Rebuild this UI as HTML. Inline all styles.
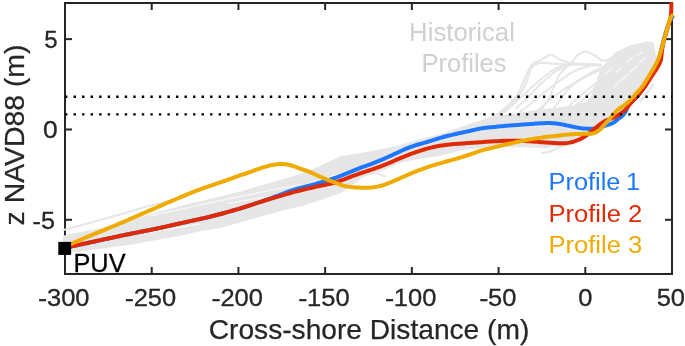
<!DOCTYPE html>
<html><head><meta charset="utf-8"><style>
html,body{margin:0;padding:0;background:#fff;width:685px;height:346px;overflow:hidden}
svg{display:block}
text{font-family:"Liberation Sans",Arial,Helvetica,sans-serif}
.t{font-size:24px;fill:#262626;stroke:#262626;stroke-width:0.3px}
.l{font-size:28.4px;fill:#262626;stroke:#262626;stroke-width:0.25px}
.g{font-size:24.5px}
.h{font-size:25px;fill:#d0d0d0}
</style></head><body>
<svg width="685" height="346" viewBox="0 0 685 346">
<rect width="685" height="346" fill="#fff"/>
<rect x="65.0" y="3.0" width="607.0" height="271.0" fill="none" stroke="#262626" stroke-width="2"/>
<line x1="65.00" x2="65.00" y1="274.0" y2="267.0" stroke="#262626" stroke-width="2"/>
<line x1="65.00" x2="65.00" y1="3.0" y2="10.0" stroke="#262626" stroke-width="2"/>
<line x1="151.71" x2="151.71" y1="274.0" y2="267.0" stroke="#262626" stroke-width="2"/>
<line x1="151.71" x2="151.71" y1="3.0" y2="10.0" stroke="#262626" stroke-width="2"/>
<line x1="238.43" x2="238.43" y1="274.0" y2="267.0" stroke="#262626" stroke-width="2"/>
<line x1="238.43" x2="238.43" y1="3.0" y2="10.0" stroke="#262626" stroke-width="2"/>
<line x1="325.14" x2="325.14" y1="274.0" y2="267.0" stroke="#262626" stroke-width="2"/>
<line x1="325.14" x2="325.14" y1="3.0" y2="10.0" stroke="#262626" stroke-width="2"/>
<line x1="411.86" x2="411.86" y1="274.0" y2="267.0" stroke="#262626" stroke-width="2"/>
<line x1="411.86" x2="411.86" y1="3.0" y2="10.0" stroke="#262626" stroke-width="2"/>
<line x1="498.57" x2="498.57" y1="274.0" y2="267.0" stroke="#262626" stroke-width="2"/>
<line x1="498.57" x2="498.57" y1="3.0" y2="10.0" stroke="#262626" stroke-width="2"/>
<line x1="585.29" x2="585.29" y1="274.0" y2="267.0" stroke="#262626" stroke-width="2"/>
<line x1="585.29" x2="585.29" y1="3.0" y2="10.0" stroke="#262626" stroke-width="2"/>
<line x1="672.00" x2="672.00" y1="274.0" y2="267.0" stroke="#262626" stroke-width="2"/>
<line x1="672.00" x2="672.00" y1="3.0" y2="10.0" stroke="#262626" stroke-width="2"/>
<line x1="65.0" x2="72.0" y1="219.80" y2="219.80" stroke="#262626" stroke-width="2"/>
<line x1="672.0" x2="665.0" y1="219.80" y2="219.80" stroke="#262626" stroke-width="2"/>
<line x1="65.0" x2="72.0" y1="129.47" y2="129.47" stroke="#262626" stroke-width="2"/>
<line x1="672.0" x2="665.0" y1="129.47" y2="129.47" stroke="#262626" stroke-width="2"/>
<line x1="65.0" x2="72.0" y1="39.13" y2="39.13" stroke="#262626" stroke-width="2"/>
<line x1="672.0" x2="665.0" y1="39.13" y2="39.13" stroke="#262626" stroke-width="2"/>
<path d="M63.8,236.5 L65.0,236.0 L100.0,229.0 L120.0,223.5 L140.0,218.0 L170.0,209.5 L200.0,202.0 L240.0,192.5 L281.0,180.5 L300.0,175.0 L320.0,167.0 L340.0,157.0 L360.0,154.0 L381.0,150.0 L400.0,146.0 L420.0,140.0 L440.0,135.0 L463.0,127.0 L486.0,119.5 L509.0,115.0 L540.0,110.0 L570.0,107.0 L588.0,102.0 L592.0,96.0 L596.0,85.0 L600.0,73.0 L605.0,65.0 L609.0,60.5 L613.0,56.0 L616.0,53.0 L625.0,48.7 L630.0,46.1 L638.0,44.3 L647.0,42.6 L653.0,42.4 L654.5,50.0 L655.5,60.0 L653.0,71.0 L648.0,80.0 L640.0,92.0 L631.0,100.0 L622.0,107.0 L614.0,113.0 L606.0,122.0 L598.0,128.0 L590.0,134.0 L575.0,142.0 L560.0,146.0 L540.0,146.5 L509.0,146.5 L486.0,147.0 L463.0,149.0 L440.0,155.0 L420.0,158.0 L400.0,162.0 L386.0,168.5 L363.0,176.5 L350.0,186.0 L340.0,192.7 L326.0,197.3 L303.0,205.0 L280.0,210.6 L262.0,215.5 L221.0,227.0 L200.0,230.5 L180.0,235.0 L130.0,244.0 L100.0,248.0 L70.8,252.0 L65.0,253.0 L63.8,253.0 Z" fill="#e6e6e6" stroke="#e6e6e6" stroke-width="1.5" stroke-linejoin="round"/>
<path d="M63.50,230.00 C72.92,227.42 107.25,218.08 120.00,214.50 C132.75,210.92 132.50,210.58 140.00,208.50 C147.50,206.42 157.50,203.92 165.00,202.00 C172.50,200.08 181.67,197.83 185.00,197.00" fill="none" stroke="#e6e6e6" stroke-width="2" stroke-linejoin="round" stroke-linecap="round"/>
<path d="M486.00,119.40 C488.33,118.33 494.93,116.85 500.00,113.00 C505.07,109.15 512.07,102.47 516.40,96.30 C520.73,90.13 523.30,81.40 526.00,76.00 C528.70,70.60 530.27,66.47 532.60,63.90 C534.93,61.33 537.00,62.12 540.00,60.60 C543.00,59.08 547.20,54.93 550.60,54.80 C554.00,54.67 556.97,58.43 560.40,59.80 C563.83,61.17 567.10,62.30 571.20,63.00 C575.30,63.70 580.03,63.75 585.00,64.00 C589.97,64.25 598.33,64.42 601.00,64.50" fill="none" stroke="#e6e6e6" stroke-width="2" stroke-linejoin="round" stroke-linecap="round"/>
<path d="M498.00,114.80 C500.13,113.33 506.35,110.77 510.80,106.00 C515.25,101.23 521.23,92.58 524.70,86.20 C528.17,79.82 529.10,71.55 531.60,67.70 C534.10,63.85 536.63,63.80 539.70,63.10 C542.77,62.40 544.95,63.27 550.00,63.50 C555.05,63.73 561.50,64.17 570.00,64.50 C578.50,64.83 595.83,65.33 601.00,65.50" fill="none" stroke="#e6e6e6" stroke-width="2" stroke-linejoin="round" stroke-linecap="round"/>
<path d="M536.00,116.30 C538.00,113.58 544.10,106.93 548.00,100.00 C551.90,93.07 555.57,80.85 559.40,74.70 C563.23,68.55 568.12,66.18 571.00,63.10 C573.88,60.02 574.40,58.12 576.70,56.20 C579.00,54.28 581.92,51.80 584.80,51.60 C587.68,51.40 590.92,53.47 594.00,55.00 C597.08,56.53 600.30,60.30 603.30,60.80 C606.30,61.30 610.55,58.47 612.00,58.00" fill="none" stroke="#e6e6e6" stroke-width="2" stroke-linejoin="round" stroke-linecap="round"/>
<path d="M545.50,118.60 C547.92,115.50 555.75,105.40 560.00,100.00 C564.25,94.60 565.72,90.80 571.00,86.20 C576.28,81.60 586.03,75.77 591.70,72.40 C597.37,69.03 602.78,67.07 605.00,66.00" fill="none" stroke="#e6e6e6" stroke-width="2" stroke-linejoin="round" stroke-linecap="round"/>
<path d="M530.00,118.00 C532.50,115.67 540.00,108.33 545.00,104.00 C550.00,99.67 554.17,96.00 560.00,92.00 C565.83,88.00 573.33,83.67 580.00,80.00 C586.67,76.33 596.67,71.67 600.00,70.00" fill="none" stroke="#e6e6e6" stroke-width="2" stroke-linejoin="round" stroke-linecap="round"/>
<path d="M555.00,118.00 C557.50,115.83 565.00,109.33 570.00,105.00 C575.00,100.67 580.00,96.17 585.00,92.00 C590.00,87.83 597.50,82.00 600.00,80.00" fill="none" stroke="#e6e6e6" stroke-width="2" stroke-linejoin="round" stroke-linecap="round"/>
<path d="M565.00,114.00 C567.50,112.00 575.00,106.33 580.00,102.00 C585.00,97.67 590.83,92.00 595.00,88.00 C599.17,84.00 603.33,79.67 605.00,78.00" fill="none" stroke="#e6e6e6" stroke-width="2" stroke-linejoin="round" stroke-linecap="round"/>
<path d="M516.40,107.90 C518.67,105.75 526.07,98.87 530.00,95.00 C533.93,91.13 535.67,88.70 540.00,84.70 C544.33,80.70 551.00,74.28 556.00,71.00 C561.00,67.72 567.67,66.00 570.00,65.00" fill="none" stroke="#e6e6e6" stroke-width="2" stroke-linejoin="round" stroke-linecap="round"/>
<path d="M505.00,112.00 C507.17,110.00 513.83,103.83 518.00,100.00 C522.17,96.17 525.50,93.00 530.00,89.00 C534.50,85.00 540.67,79.43 545.00,76.00 C549.33,72.57 551.83,70.40 556.00,68.40 C560.17,66.40 567.67,64.73 570.00,64.00" fill="none" stroke="#e6e6e6" stroke-width="2" stroke-linejoin="round" stroke-linecap="round"/>
<path d="M520.00,112.00 C521.67,110.70 525.00,108.20 530.00,104.20 C535.00,100.20 542.77,93.42 550.00,88.00 C557.23,82.58 566.73,75.37 573.40,71.70 C580.07,68.03 587.23,66.95 590.00,66.00" fill="none" stroke="#e6e6e6" stroke-width="2" stroke-linejoin="round" stroke-linecap="round"/>
<path d="M492.00,118.00 C494.17,116.33 501.17,111.33 505.00,108.00 C508.83,104.67 513.33,99.67 515.00,98.00" fill="none" stroke="#e6e6e6" stroke-width="2" stroke-linejoin="round" stroke-linecap="round"/>
<path d="M366.80,170.40 L385.00,176.40" fill="none" stroke="#e6e6e6" stroke-width="2" stroke-linejoin="round" stroke-linecap="round"/>
<path d="M512.00,145.00 C515.00,145.25 524.83,146.17 530.00,146.50 C535.17,146.83 539.33,147.08 543.00,147.00 C546.67,146.92 550.50,146.17 552.00,146.00" fill="none" stroke="#e6e6e6" stroke-width="2" stroke-linejoin="round" stroke-linecap="round"/>
<path d="M542.00,153.00 C543.33,152.75 546.83,152.58 550.00,151.50 C553.17,150.42 557.67,147.92 561.00,146.50 C564.33,145.08 568.50,143.58 570.00,143.00" fill="none" stroke="#e6e6e6" stroke-width="2" stroke-linejoin="round" stroke-linecap="round"/>
<path d="M639.70,102.00 L653.60,84.70" fill="none" stroke="#e6e6e6" stroke-width="2" stroke-linejoin="round" stroke-linecap="round"/>
<path d="M150.00,216.00 C158.33,214.17 188.33,207.57 200.00,205.00 C211.67,202.43 210.00,202.68 220.00,200.60 C230.00,198.52 246.67,195.18 260.00,192.50 C273.33,189.82 293.33,185.83 300.00,184.50" fill="none" stroke="#fafafa" stroke-width="1.2" stroke-linejoin="round" stroke-linecap="round"/>
<path d="M228.00,203.50 L268.00,196.50" fill="none" stroke="#fafafa" stroke-width="1.2" stroke-linejoin="round" stroke-linecap="round"/>
<path d="M290.00,190.00 C295.00,188.33 310.83,183.00 320.00,180.00 C329.17,177.00 340.83,173.33 345.00,172.00" fill="none" stroke="#fafafa" stroke-width="1.2" stroke-linejoin="round" stroke-linecap="round"/>
<path d="M100.00,240.00 C108.33,238.67 133.33,234.67 150.00,232.00 C166.67,229.33 191.67,225.33 200.00,224.00" fill="none" stroke="#fafafa" stroke-width="1.2" stroke-linejoin="round" stroke-linecap="round"/>
<path d="M614.00,86.80 L622.70,78.10" fill="none" stroke="#fafafa" stroke-width="1.2" stroke-linejoin="round" stroke-linecap="round"/>
<path d="M621.00,79.90 L628.00,74.70" fill="none" stroke="#fafafa" stroke-width="1.2" stroke-linejoin="round" stroke-linecap="round"/>
<path d="M629.70,72.00 L637.50,66.00" fill="none" stroke="#fafafa" stroke-width="1.2" stroke-linejoin="round" stroke-linecap="round"/>
<path d="M605.40,74.70 L612.30,67.70" fill="none" stroke="#fafafa" stroke-width="1.2" stroke-linejoin="round" stroke-linecap="round"/>
<path d="M626.20,62.50 L633.10,57.30" fill="none" stroke="#fafafa" stroke-width="1.2" stroke-linejoin="round" stroke-linecap="round"/>
<path d="M636.60,55.60 L642.00,52.50" fill="none" stroke="#fafafa" stroke-width="1.2" stroke-linejoin="round" stroke-linecap="round"/>
<path d="M640.00,62.00 L645.00,58.00" fill="none" stroke="#fafafa" stroke-width="1.2" stroke-linejoin="round" stroke-linecap="round"/>
<path d="M617.00,72.00 L621.00,68.00" fill="none" stroke="#fafafa" stroke-width="1.2" stroke-linejoin="round" stroke-linecap="round"/>
<text x="89.51" y="306.2" text-anchor="end" class="t" style="font-size:24.4px"><tspan textLength="9.2" lengthAdjust="spacingAndGlyphs">-</tspan><tspan dx="-0.3" textLength="42.53" lengthAdjust="spacingAndGlyphs">300</tspan></text>
<text x="176.23" y="306.2" text-anchor="end" class="t" style="font-size:24.4px"><tspan textLength="9.2" lengthAdjust="spacingAndGlyphs">-</tspan><tspan dx="-0.3" textLength="42.53" lengthAdjust="spacingAndGlyphs">250</tspan></text>
<text x="262.94" y="306.2" text-anchor="end" class="t" style="font-size:24.4px"><tspan textLength="9.2" lengthAdjust="spacingAndGlyphs">-</tspan><tspan dx="-0.3" textLength="42.53" lengthAdjust="spacingAndGlyphs">200</tspan></text>
<text x="349.65" y="306.2" text-anchor="end" class="t" style="font-size:24.4px"><tspan textLength="9.2" lengthAdjust="spacingAndGlyphs">-</tspan><tspan dx="-0.3" textLength="42.53" lengthAdjust="spacingAndGlyphs">150</tspan></text>
<text x="436.37" y="306.2" text-anchor="end" class="t" style="font-size:24.4px"><tspan textLength="9.2" lengthAdjust="spacingAndGlyphs">-</tspan><tspan dx="-0.3" textLength="42.53" lengthAdjust="spacingAndGlyphs">100</tspan></text>
<text x="516.41" y="306.2" text-anchor="end" class="t" style="font-size:24.4px"><tspan textLength="9.2" lengthAdjust="spacingAndGlyphs">-</tspan><tspan dx="-0.3" textLength="28.35" lengthAdjust="spacingAndGlyphs">50</tspan></text>
<text x="585.29" y="306.2" text-anchor="middle" class="t" style="font-size:24.4px" textLength="14.18" lengthAdjust="spacingAndGlyphs">0</text>
<text x="670.80" y="306.2" text-anchor="middle" class="t" style="font-size:24.4px" textLength="28.35" lengthAdjust="spacingAndGlyphs">50</text>
<text transform="translate(55.1,228.70) scale(1.05,1)" text-anchor="end" class="t">-<tspan dx="0.3">5</tspan></text>
<text transform="translate(57.6,138.47) scale(1.1,1)" text-anchor="end" class="t">0</text>
<text x="57.5" y="47.63" text-anchor="end" class="t">5</text>
<defs><clipPath id="cp"><rect x="55" y="2.2" width="630" height="280"/></clipPath></defs><g clip-path="url(#cp)">
<path d="M65.00,248.30 L66.64,247.78 L68.35,247.28 L70.15,246.80 L72.03,246.35 L73.95,245.90 L75.90,245.47 L77.85,245.04 L79.80,244.62 L81.76,244.19 L83.71,243.77 L85.67,243.35 L87.62,242.93 L89.58,242.51 L91.53,242.09 L93.49,241.67 L95.45,241.25 L97.40,240.83 L99.36,240.41 L101.31,239.99 L103.27,239.57 L105.22,239.15 L107.18,238.73 L109.14,238.32 L111.09,237.90 L113.05,237.48 L115.00,237.07 L116.96,236.65 L118.92,236.23 L120.87,235.82 L122.83,235.40 L124.79,234.99 L126.74,234.58 L128.70,234.18 L130.66,233.78 L132.62,233.38 L134.58,232.99 L136.54,232.60 L138.51,232.21 L140.47,231.83 L142.43,231.45 L144.40,231.07 L146.36,230.70 L148.33,230.32 L150.29,229.93 L152.25,229.54 L154.21,229.14 L156.17,228.73 L158.12,228.31 L160.08,227.89 L162.03,227.45 L163.98,227.02 L165.93,226.58 L167.88,226.13 L169.83,225.69 L171.78,225.25 L173.74,224.82 L175.69,224.38 L177.64,223.95 L179.59,223.52 L181.55,223.08 L183.50,222.65 L185.45,222.22 L187.40,221.78 L189.35,221.35 L191.31,220.92 L193.26,220.49 L195.22,220.06 L197.17,219.63 L199.12,219.21 L201.08,218.78 L203.03,218.34 L204.98,217.90 L206.93,217.45 L208.87,216.99 L210.82,216.52 L212.76,216.04 L214.70,215.54 L216.63,215.04 L218.57,214.53 L220.50,214.01 L222.43,213.49 L224.36,212.96 L226.28,212.42 L228.21,211.89 L230.13,211.34 L232.06,210.80 L233.98,210.24 L235.90,209.69 L237.82,209.13 L239.74,208.56 L241.65,207.98 L243.57,207.40 L245.47,206.80 L247.38,206.19 L249.28,205.58 L251.18,204.95 L253.08,204.32 L254.98,203.68 L256.87,203.04 L258.77,202.41 L260.66,201.77 L262.56,201.13 L264.45,200.48 L266.34,199.83 L268.23,199.18 L270.12,198.52 L272.00,197.85 L273.89,197.17 L275.76,196.48 L277.63,195.78 L279.50,195.07 L281.37,194.34 L283.23,193.61 L285.09,192.89 L286.96,192.18 L288.84,191.49 L290.72,190.83 L292.62,190.19 L294.53,189.59 L296.44,189.02 L298.37,188.47 L300.29,187.94 L302.22,187.42 L304.16,186.91 L306.09,186.40 L308.03,185.89 L309.96,185.39 L311.89,184.88 L313.83,184.36 L315.75,183.83 L317.68,183.29 L319.60,182.74 L321.53,182.19 L323.45,181.63 L325.36,181.06 L327.28,180.47 L329.18,179.88 L331.09,179.27 L332.99,178.64 L334.88,177.99 L336.76,177.32 L338.64,176.63 L340.51,175.92 L342.37,175.19 L344.23,174.45 L346.08,173.70 L347.94,172.95 L349.79,172.20 L351.64,171.44 L353.49,170.68 L355.34,169.92 L357.19,169.17 L359.05,168.42 L360.91,167.70 L362.78,166.99 L364.66,166.31 L366.54,165.64 L368.43,164.97 L370.30,164.28 L372.18,163.58 L374.04,162.85 L375.90,162.11 L377.75,161.36 L379.60,160.60 L381.45,159.83 L383.29,159.06 L385.13,158.28 L386.97,157.49 L388.80,156.68 L390.62,155.86 L392.44,155.02 L394.25,154.17 L396.05,153.31 L397.86,152.45 L399.67,151.60 L401.49,150.77 L403.31,149.96 L405.15,149.17 L406.99,148.39 L408.85,147.64 L410.71,146.93 L412.59,146.26 L414.49,145.62 L416.40,145.03 L418.32,144.48 L420.24,143.95 L422.17,143.42 L424.10,142.88 L426.02,142.32 L427.93,141.75 L429.84,141.15 L431.74,140.54 L433.65,139.92 L435.55,139.31 L437.46,138.72 L439.38,138.14 L441.30,137.59 L443.22,137.05 L445.16,136.53 L447.09,136.03 L449.03,135.55 L450.97,135.08 L452.92,134.62 L454.87,134.18 L456.82,133.74 L458.78,133.32 L460.73,132.90 L462.69,132.48 L464.64,132.06 L466.60,131.62 L468.55,131.18 L470.50,130.74 L472.45,130.30 L474.40,129.85 L476.35,129.42 L478.31,129.01 L480.27,128.63 L482.23,128.29 L484.21,128.00 L486.19,127.75 L488.18,127.54 L490.17,127.35 L492.16,127.16 L494.15,126.96 L496.14,126.76 L498.13,126.56 L500.12,126.36 L502.11,126.17 L504.10,125.98 L506.09,125.80 L508.08,125.63 L510.08,125.47 L512.07,125.31 L514.07,125.16 L516.06,125.02 L518.06,124.88 L520.05,124.74 L522.05,124.60 L524.04,124.46 L526.04,124.32 L528.03,124.18 L530.03,124.03 L532.02,123.89 L534.02,123.74 L536.01,123.60 L538.01,123.47 L540.00,123.34 L542.00,123.23 L544.00,123.14 L545.99,123.09 L547.99,123.07 L549.99,123.11 L551.98,123.20 L553.98,123.34 L555.96,123.52 L557.95,123.76 L559.92,124.05 L561.89,124.39 L563.86,124.76 L565.81,125.17 L567.77,125.59 L569.72,126.02 L571.67,126.45 L573.63,126.86 L575.59,127.24 L577.56,127.60 L579.53,127.92 L581.51,128.20 L583.50,128.43 L585.49,128.62 L587.48,128.76 L589.48,128.84 L591.48,128.84 L593.47,128.73 L595.45,128.47 L597.40,128.06 L599.34,127.56 L601.25,127.00 L603.15,126.37 L605.05,125.74 L606.96,125.15 L608.88,124.60 L610.78,123.99 L612.59,123.19 L614.26,122.13 L615.85,120.91 L617.42,119.68 L619.01,118.47 L620.58,117.23 L622.12,115.96 L623.56,114.59 L624.79,113.05 L625.78,111.33 L626.60,109.51 L627.39,107.67 L628.27,105.89 L629.33,104.21 L630.58,102.65 L631.95,101.20 L633.36,99.79 L634.77,98.37 L636.14,96.91 L637.46,95.41 L638.77,93.90 L640.05,92.36 L641.31,90.81 L642.55,89.24 L643.74,87.63 L644.88,85.99 L645.97,84.31 L647.02,82.61 L648.05,80.90 L649.08,79.18 L650.11,77.47 L651.14,75.76 L652.17,74.04 L653.17,72.31 L654.14,70.56 L655.06,68.79 L655.90,66.98 L656.67,65.13 L657.36,63.25 L658.00,61.36 L658.59,59.45 L659.16,57.53 L659.72,55.61 L660.25,53.69 L660.76,51.75 L661.23,49.81 L661.69,47.86 L662.17,45.92 L662.68,43.98 L663.19,42.05 L663.71,40.12 L664.24,38.19 L664.78,36.26 L665.32,34.34 L665.88,32.42 L666.44,30.50 L667.02,28.59 L667.62,26.68 L668.26,24.79 L668.98,22.92 L669.81,21.11 L670.78,19.40 L671.74,17.91 L672.50,16.80" fill="none" stroke="#1e78ff" stroke-width="4" stroke-linejoin="round" stroke-linecap="round"/>
<path d="M65.00,248.30 L66.64,247.78 L68.35,247.28 L70.15,246.80 L72.03,246.35 L73.95,245.90 L75.90,245.47 L77.85,245.04 L79.80,244.62 L81.76,244.19 L83.71,243.77 L85.67,243.35 L87.62,242.93 L89.58,242.51 L91.53,242.09 L93.49,241.67 L95.45,241.25 L97.40,240.83 L99.36,240.41 L101.31,239.99 L103.27,239.57 L105.22,239.15 L107.18,238.73 L109.14,238.32 L111.09,237.90 L113.05,237.48 L115.00,237.07 L116.96,236.65 L118.92,236.23 L120.87,235.82 L122.83,235.40 L124.79,234.99 L126.74,234.58 L128.70,234.18 L130.66,233.78 L132.62,233.38 L134.58,232.99 L136.54,232.60 L138.51,232.21 L140.47,231.83 L142.43,231.45 L144.40,231.07 L146.36,230.70 L148.33,230.32 L150.29,229.93 L152.25,229.54 L154.21,229.14 L156.17,228.73 L158.12,228.31 L160.08,227.89 L162.03,227.45 L163.98,227.02 L165.93,226.58 L167.88,226.13 L169.83,225.69 L171.78,225.25 L173.74,224.82 L175.69,224.38 L177.64,223.95 L179.59,223.52 L181.55,223.08 L183.50,222.65 L185.45,222.22 L187.40,221.78 L189.35,221.35 L191.31,220.92 L193.26,220.49 L195.22,220.06 L197.17,219.63 L199.12,219.21 L201.08,218.78 L203.03,218.34 L204.98,217.90 L206.93,217.45 L208.87,216.99 L210.82,216.52 L212.76,216.04 L214.70,215.54 L216.63,215.04 L218.57,214.53 L220.50,214.01 L222.43,213.49 L224.36,212.96 L226.28,212.42 L228.21,211.89 L230.13,211.34 L232.06,210.80 L233.98,210.24 L235.90,209.69 L237.82,209.13 L239.74,208.56 L241.65,207.98 L243.56,207.39 L245.47,206.78 L247.37,206.17 L249.27,205.54 L251.17,204.92 L253.07,204.29 L254.97,203.67 L256.88,203.06 L258.78,202.46 L260.69,201.86 L262.60,201.27 L264.51,200.68 L266.43,200.09 L268.34,199.51 L270.25,198.93 L272.17,198.35 L274.08,197.78 L276.00,197.20 L277.92,196.63 L279.83,196.06 L281.75,195.49 L283.67,194.92 L285.59,194.36 L287.51,193.80 L289.43,193.25 L291.36,192.71 L293.29,192.19 L295.22,191.68 L297.16,191.20 L299.10,190.72 L301.05,190.25 L302.99,189.78 L304.94,189.32 L306.88,188.86 L308.83,188.40 L310.78,187.94 L312.72,187.49 L314.67,187.05 L316.63,186.61 L318.58,186.19 L320.54,185.78 L322.50,185.38 L324.46,184.98 L326.42,184.58 L328.37,184.16 L330.32,183.72 L332.26,183.24 L334.19,182.72 L336.11,182.16 L338.01,181.55 L339.90,180.91 L341.78,180.23 L343.66,179.53 L345.52,178.82 L347.39,178.10 L349.25,177.38 L351.12,176.66 L352.99,175.96 L354.87,175.26 L356.75,174.58 L358.63,173.91 L360.52,173.25 L362.42,172.61 L364.32,171.99 L366.22,171.38 L368.12,170.76 L370.02,170.13 L371.91,169.48 L373.80,168.82 L375.68,168.14 L377.56,167.45 L379.43,166.76 L381.30,166.05 L383.17,165.34 L385.04,164.62 L386.90,163.89 L388.75,163.14 L390.60,162.37 L392.43,161.58 L394.26,160.76 L396.08,159.95 L397.91,159.14 L399.75,158.36 L401.60,157.60 L403.46,156.86 L405.32,156.13 L407.18,155.40 L409.04,154.67 L410.91,153.95 L412.78,153.25 L414.66,152.58 L416.55,151.93 L418.45,151.30 L420.36,150.69 L422.26,150.09 L424.18,149.51 L426.10,148.95 L428.02,148.40 L429.95,147.89 L431.89,147.40 L433.84,146.95 L435.79,146.53 L437.75,146.14 L439.72,145.79 L441.69,145.47 L443.67,145.18 L445.65,144.91 L447.64,144.68 L449.63,144.47 L451.62,144.28 L453.61,144.11 L455.60,143.95 L457.60,143.81 L459.59,143.67 L461.59,143.53 L463.58,143.39 L465.58,143.25 L467.57,143.11 L469.57,142.96 L471.56,142.81 L473.56,142.67 L475.55,142.53 L477.55,142.40 L479.54,142.26 L481.54,142.13 L483.53,142.00 L485.53,141.87 L487.53,141.75 L489.52,141.62 L491.52,141.49 L493.51,141.37 L495.51,141.25 L497.51,141.14 L499.50,141.03 L501.50,140.94 L503.50,140.85 L505.50,140.78 L507.50,140.73 L509.50,140.69 L511.50,140.68 L513.50,140.68 L515.50,140.70 L517.49,140.74 L519.49,140.80 L521.49,140.87 L523.49,140.95 L525.49,141.05 L527.48,141.16 L529.48,141.28 L531.48,141.41 L533.47,141.56 L535.47,141.70 L537.46,141.86 L539.45,142.00 L541.45,142.15 L543.44,142.30 L545.44,142.44 L547.43,142.58 L549.43,142.71 L551.42,142.85 L553.42,142.97 L555.42,143.09 L557.41,143.19 L559.41,143.26 L561.41,143.29 L563.40,143.26 L565.39,143.15 L567.37,142.94 L569.33,142.63 L571.28,142.22 L573.20,141.72 L575.10,141.12 L576.98,140.45 L578.82,139.70 L580.63,138.86 L582.40,137.93 L584.12,136.91 L585.78,135.81 L587.39,134.62 L588.95,133.38 L590.50,132.10 L592.03,130.82 L593.55,129.52 L595.08,128.23 L596.62,126.95 L598.17,125.70 L599.76,124.49 L601.38,123.31 L603.03,122.19 L604.75,121.16 L606.53,120.28 L608.38,119.54 L610.28,118.91 L612.17,118.27 L614.02,117.52 L615.80,116.63 L617.52,115.62 L619.18,114.51 L620.82,113.36 L622.46,112.22 L624.04,111.01 L625.46,109.63 L626.73,108.09 L627.94,106.50 L629.19,104.94 L630.50,103.44 L631.87,101.98 L633.26,100.54 L634.64,99.10 L636.00,97.63 L637.33,96.14 L638.64,94.62 L639.93,93.10 L641.20,91.55 L642.45,89.99 L643.67,88.40 L644.84,86.79 L645.97,85.13 L647.06,83.46 L648.13,81.77 L649.21,80.08 L650.29,78.40 L651.40,76.74 L652.50,75.07 L653.61,73.40 L654.71,71.73 L655.79,70.05 L656.84,68.35 L657.86,66.63 L658.82,64.88 L659.71,63.09 L660.47,61.25 L661.03,59.35 L661.33,57.39 L661.50,55.40 L661.69,53.41 L661.91,51.42 L662.16,49.44 L662.46,47.46 L662.83,45.50 L663.25,43.54 L663.73,41.60 L664.24,39.67 L664.77,37.74 L665.32,35.81 L665.86,33.89 L666.41,31.97 L666.97,30.05 L667.54,28.13 L668.11,26.21 L668.70,24.30 L669.26,22.38 L669.80,20.46 L670.28,18.52 L670.68,16.56 L670.97,14.59 L671.14,12.59 L671.24,10.60 L671.29,8.60 L671.31,6.60 L671.31,4.60 L671.30,2.64 L671.30,0.83 L671.30,-0.00" fill="none" stroke="#e02a05" stroke-width="4" stroke-linejoin="round" stroke-linecap="round"/>
<path d="M65.00,248.30 L66.26,247.13 L67.64,246.03 L69.18,245.02 L70.86,244.09 L72.63,243.23 L74.44,242.41 L76.27,241.61 L78.11,240.82 L79.95,240.04 L81.79,239.26 L83.64,238.49 L85.48,237.71 L87.33,236.94 L89.17,236.18 L91.02,235.41 L92.87,234.64 L94.72,233.88 L96.56,233.11 L98.41,232.35 L100.26,231.59 L102.11,230.82 L103.96,230.06 L105.81,229.30 L107.65,228.53 L109.50,227.77 L111.35,227.00 L113.20,226.24 L115.04,225.47 L116.89,224.70 L118.73,223.92 L120.58,223.15 L122.42,222.37 L124.26,221.58 L126.09,220.79 L127.93,219.99 L129.76,219.19 L131.59,218.39 L133.42,217.58 L135.25,216.78 L137.09,215.97 L138.92,215.17 L140.75,214.37 L142.59,213.58 L144.42,212.78 L146.26,211.99 L148.09,211.19 L149.93,210.40 L151.76,209.60 L153.60,208.81 L155.43,208.01 L157.26,207.21 L159.09,206.40 L160.93,205.60 L162.76,204.80 L164.59,204.00 L166.42,203.20 L168.26,202.41 L170.10,201.62 L171.94,200.83 L173.78,200.05 L175.62,199.28 L177.47,198.50 L179.31,197.73 L181.16,196.95 L183.00,196.18 L184.85,195.42 L186.70,194.65 L188.55,193.90 L190.40,193.14 L192.26,192.39 L194.11,191.66 L195.98,190.93 L197.84,190.21 L199.72,189.51 L201.59,188.82 L203.48,188.15 L205.36,187.49 L207.25,186.83 L209.15,186.19 L211.04,185.54 L212.93,184.90 L214.83,184.25 L216.72,183.60 L218.61,182.95 L220.50,182.30 L222.39,181.64 L224.28,180.99 L226.17,180.33 L228.06,179.67 L229.94,179.01 L231.82,178.33 L233.70,177.65 L235.58,176.96 L237.46,176.28 L239.35,175.61 L241.24,174.97 L243.14,174.34 L245.04,173.73 L246.94,173.10 L248.83,172.46 L250.71,171.79 L252.59,171.10 L254.46,170.40 L256.34,169.71 L258.22,169.04 L260.11,168.39 L262.01,167.76 L263.92,167.17 L265.84,166.60 L267.76,166.06 L269.70,165.56 L271.64,165.11 L273.60,164.72 L275.56,164.41 L277.54,164.18 L279.53,164.06 L281.52,164.04 L283.50,164.13 L285.48,164.31 L287.45,164.60 L289.40,164.98 L291.33,165.48 L293.23,166.07 L295.10,166.74 L296.96,167.45 L298.82,168.17 L300.70,168.86 L302.58,169.51 L304.48,170.13 L306.37,170.76 L308.26,171.42 L310.12,172.15 L311.95,172.92 L313.77,173.75 L315.58,174.59 L317.39,175.44 L319.21,176.28 L321.03,177.11 L322.86,177.91 L324.70,178.68 L326.56,179.43 L328.42,180.14 L330.30,180.84 L332.17,181.53 L334.04,182.24 L335.91,182.96 L337.76,183.69 L339.63,184.40 L341.51,185.07 L343.41,185.64 L345.34,186.12 L347.29,186.51 L349.26,186.81 L351.24,187.05 L353.23,187.24 L355.22,187.40 L357.22,187.52 L359.22,187.62 L361.21,187.68 L363.21,187.71 L365.21,187.71 L367.21,187.65 L369.20,187.55 L371.19,187.40 L373.18,187.20 L375.16,186.94 L377.13,186.63 L379.09,186.25 L381.03,185.79 L382.94,185.24 L384.84,184.62 L386.72,183.95 L388.58,183.23 L390.43,182.48 L392.28,181.70 L394.11,180.91 L395.95,180.11 L397.77,179.30 L399.60,178.49 L401.43,177.67 L403.26,176.86 L405.08,176.05 L406.91,175.24 L408.75,174.44 L410.58,173.65 L412.43,172.88 L414.28,172.13 L416.14,171.39 L418.00,170.67 L419.87,169.96 L421.75,169.26 L423.62,168.56 L425.50,167.88 L427.39,167.21 L429.28,166.56 L431.17,165.93 L433.08,165.32 L434.99,164.73 L436.91,164.17 L438.83,163.63 L440.76,163.10 L442.69,162.57 L444.62,162.04 L446.55,161.51 L448.48,160.98 L450.40,160.44 L452.33,159.90 L454.25,159.36 L456.18,158.81 L458.10,158.26 L460.02,157.69 L461.93,157.12 L463.84,156.52 L465.74,155.91 L467.64,155.27 L469.53,154.62 L471.42,153.96 L473.30,153.28 L475.18,152.61 L477.07,151.94 L478.96,151.30 L480.86,150.68 L482.77,150.12 L484.70,149.60 L486.64,149.12 L488.59,148.67 L490.53,148.22 L492.48,147.76 L494.42,147.29 L496.36,146.81 L498.31,146.33 L500.25,145.85 L502.19,145.37 L504.13,144.90 L506.08,144.43 L508.02,143.98 L509.97,143.53 L511.92,143.08 L513.87,142.65 L515.83,142.22 L517.78,141.79 L519.74,141.38 L521.70,140.98 L523.66,140.59 L525.62,140.21 L527.59,139.84 L529.56,139.49 L531.53,139.14 L533.50,138.81 L535.47,138.50 L537.45,138.19 L539.43,137.89 L541.41,137.61 L543.39,137.34 L545.37,137.08 L547.36,136.83 L549.34,136.60 L551.33,136.37 L553.32,136.14 L555.30,135.91 L557.29,135.68 L559.28,135.44 L561.26,135.21 L563.25,134.97 L565.23,134.75 L567.22,134.56 L569.22,134.39 L571.21,134.26 L573.21,134.15 L575.21,134.06 L577.20,133.99 L579.20,133.93 L581.20,133.89 L583.20,133.85 L585.20,133.81 L587.20,133.79 L589.20,133.78 L591.19,133.68 L593.15,133.37 L595.03,132.77 L596.81,131.88 L598.47,130.79 L600.03,129.55 L601.45,128.17 L602.70,126.63 L603.94,125.07 L605.28,123.59 L606.67,122.15 L608.05,120.70 L609.38,119.22 L610.69,117.70 L611.97,116.17 L613.25,114.63 L614.52,113.09 L615.84,111.59 L617.29,110.23 L618.87,109.01 L620.52,107.90 L622.18,106.78 L623.82,105.63 L625.41,104.42 L626.94,103.15 L628.43,101.80 L629.86,100.41 L631.25,98.97 L632.61,97.51 L633.96,96.03 L635.30,94.54 L636.63,93.06 L637.98,91.57 L639.32,90.10 L640.65,88.60 L641.91,87.05 L643.10,85.44 L644.22,83.79 L645.30,82.10 L646.34,80.40 L647.38,78.69 L648.41,76.98 L649.45,75.27 L650.49,73.56 L651.53,71.85 L652.56,70.13 L653.56,68.41 L654.54,66.66 L655.49,64.90 L656.40,63.12 L657.27,61.32 L658.08,59.50 L658.82,57.64 L659.49,55.76 L660.12,53.86 L660.71,51.94 L661.26,50.02 L661.78,48.09 L662.28,46.16 L662.79,44.22 L663.32,42.29 L663.87,40.37 L664.42,38.45 L664.98,36.53 L665.54,34.61 L666.10,32.69 L666.65,30.76 L667.19,28.84 L667.72,26.91 L668.26,24.98 L668.80,23.06 L669.37,21.14 L670.02,19.26 L670.81,17.52 L671.62,16.15 L672.00,15.60" fill="none" stroke="#f0aa00" stroke-width="4" stroke-linejoin="round" stroke-linecap="round"/>
</g>
<line x1="65.0" x2="672.0" y1="96.8" y2="96.8" stroke="#000" stroke-width="2.4" stroke-dasharray="2.4 6.135"/>
<line x1="65.0" x2="672.0" y1="114.4" y2="114.4" stroke="#000" stroke-width="2.4" stroke-dasharray="2.4 6.135"/>
<rect x="58.3" y="241.9" width="12.8" height="13" fill="#000"/>
<text x="73.5" y="272.1" class="t" style="font-size:25.3px;fill:#000;stroke:#000">PUV</text>
<text x="369" y="339.2" text-anchor="middle" class="l" style="font-size:28.15px">Cross-shore Distance (m)</text>
<text transform="translate(24,135) rotate(-90)" text-anchor="middle" class="l">z NAVD88 (m)</text>
<text transform="translate(548.6,190) scale(1.035,1)" class="g" fill="#1e78ff">Profile <tspan dx="-1.5">1</tspan></text>
<text transform="translate(548.4,221.7) scale(1.045,1)" class="g" fill="#e02a05">Profile 2</text>
<text transform="translate(548.4,252.8) scale(1.045,1)" class="g" fill="#f0aa00">Profile 3</text>
<text transform="translate(462,41) scale(1.03,1)" text-anchor="middle" class="h">Historical</text>
<text transform="translate(464,72) scale(1.02,1)" text-anchor="middle" class="h">Profiles</text>
</svg></body></html>
